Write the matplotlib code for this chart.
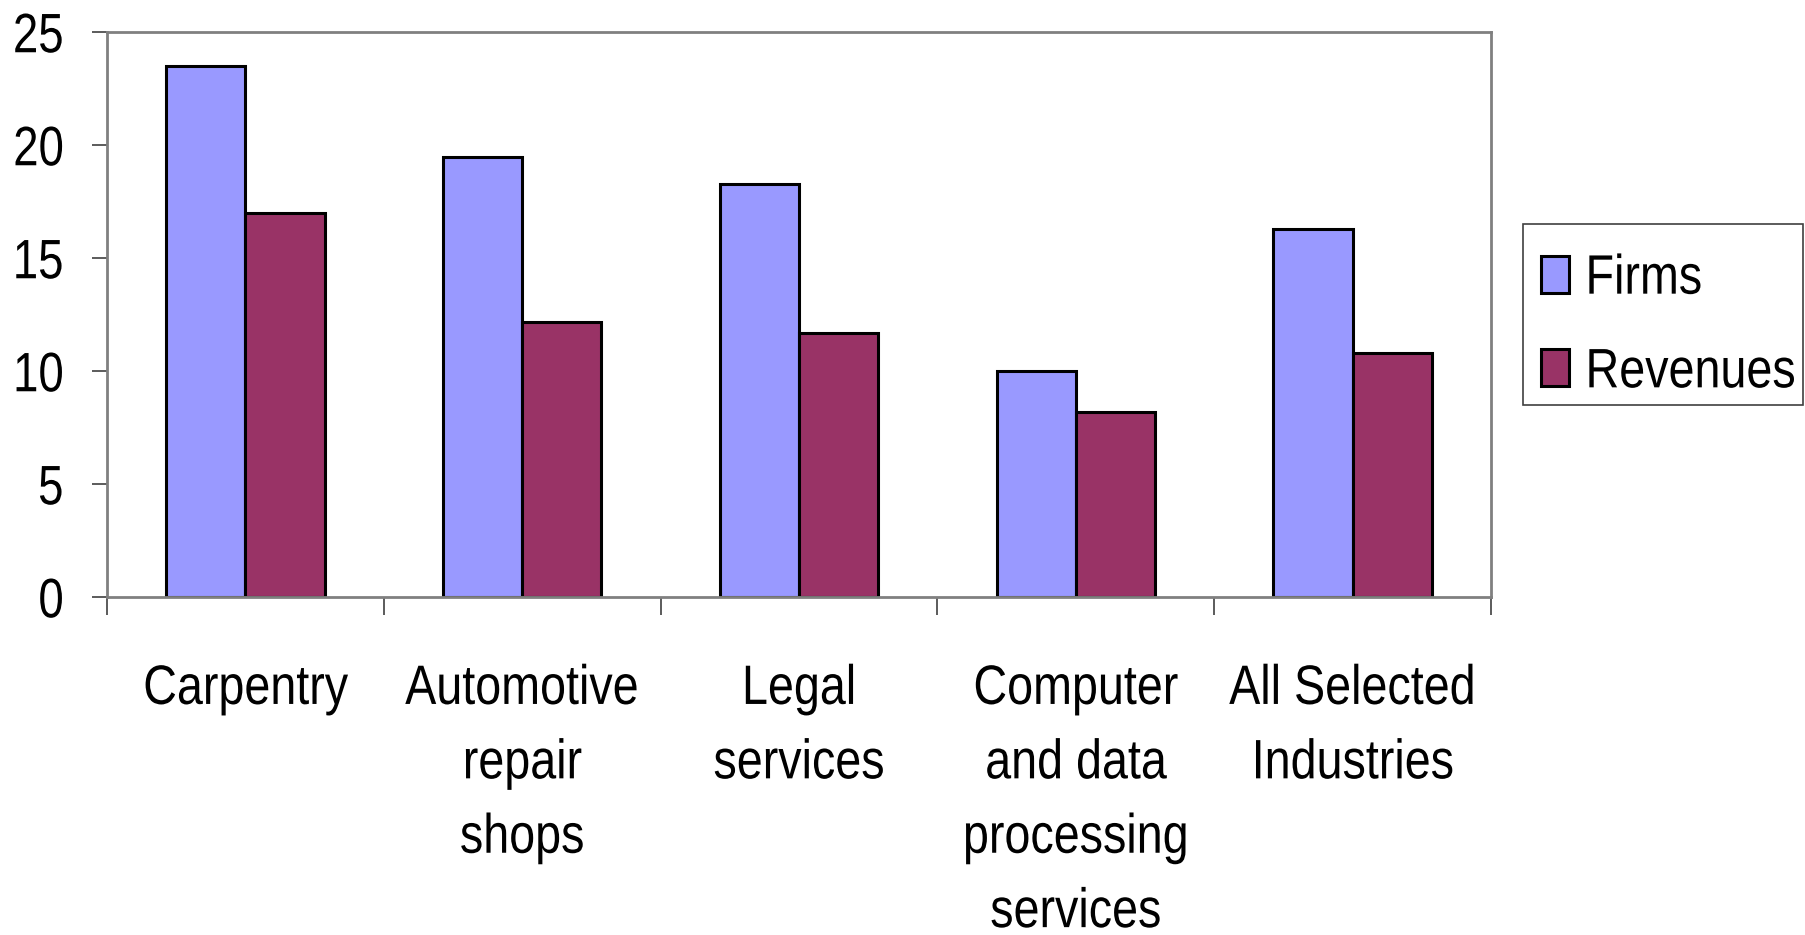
import numpy as np
import matplotlib.pyplot as plt
from matplotlib.ticker import FixedLocator
from matplotlib.patheffects import AbstractPathEffect
from matplotlib.transforms import Affine2D
from matplotlib.patches import Rectangle

categories = [
    "Carpentry",
    "Automotive\nrepair\nshops",
    "Legal\nservices",
    "Computer\nand data\nprocessing\nservices",
    "All Selected\nIndustries",
]
firms = [23.5, 19.5, 18.3, 10.0, 16.3]
revenues = [17.0, 12.2, 11.7, 8.2, 10.8]
y_ticks = [0, 5, 10, 15, 20, 25]


class Squeeze(AbstractPathEffect):
    """Draw text narrower (condensed look), keeping one edge or the centre fixed."""

    def __init__(self, sx=0.84, anchor="center"):
        super().__init__()
        self.sx = sx
        self.anchor = anchor

    def draw_path(self, renderer, gc, tpath, affine, rgbFace=None):
        ext = tpath.get_extents()
        if self.anchor == "left":
            cx = ext.x0
        elif self.anchor == "right":
            cx = ext.x1
        else:
            cx = (ext.x0 + ext.x1) / 2
        t = Affine2D().translate(-cx, 0).scale(self.sx, 1).translate(cx, 0) + affine
        renderer.draw_path(gc, tpath, t, rgbFace)


plt.rcParams["font.family"] = ["Liberation Sans", "DejaVu Sans"]

fig = plt.figure(figsize=(18.05, 9.35), dpi=100)
ax = fig.add_axes([0.0593, 0.3612, 0.7667, 0.6043])

x = np.arange(len(categories))
width = 1 / 3.5
ax.bar(x - width / 2, firms, width, color="#9999FF", edgecolor="black",
       linewidth=2.2, label="Firms")
ax.bar(x + width / 2, revenues, width, color="#993366", edgecolor="black",
       linewidth=2.2, label="Revenues")

ax.set_xlim(-0.5, len(categories) - 0.5)
ax.set_ylim(0, 25)
ax.set_yticks(y_ticks)
ax.set_yticklabels([str(v) for v in y_ticks], fontsize=40)

# category labels sit between the tick marks
ax.set_xticks(x)
ax.set_xticklabels(categories, fontsize=40, linespacing=1.56)
ax.tick_params(axis="x", which="major", length=0, pad=48)
ax.xaxis.set_minor_locator(FixedLocator(np.arange(-0.5, len(categories), 1.0)))
ax.tick_params(axis="x", which="minor", length=13, width=1.2, color="#404040")
ax.tick_params(axis="y", length=11, width=1.2, color="#404040", pad=20)

for lbl in ax.get_xticklabels():
    lbl.set_path_effects([Squeeze(0.84, "center")])
for lbl in ax.get_yticklabels():
    lbl.set_path_effects([Squeeze(0.82, "right")])

for side in ["top", "right", "left", "bottom"]:
    ax.spines[side].set_color("#808080")
    ax.spines[side].set_linewidth(2)

# legend entries without frame, box drawn separately
leg = fig.legend(loc="upper left", bbox_to_anchor=(0.8537, 0.7287),
                 fontsize=40, handlelength=0.5, handleheight=0.65,
                 handletextpad=0.29, labelspacing=0.75, borderpad=0,
                 borderaxespad=0, frameon=False)
for txt in leg.get_texts():
    txt.set_path_effects([Squeeze(0.84, "left")])

fig.patches.append(Rectangle((0.8438, 0.5668), 0.1551, 0.1936,
                             transform=fig.transFigure, fill=False,
                             edgecolor="#404040", linewidth=1.2))

fig.savefig("out.png", dpi=100)
